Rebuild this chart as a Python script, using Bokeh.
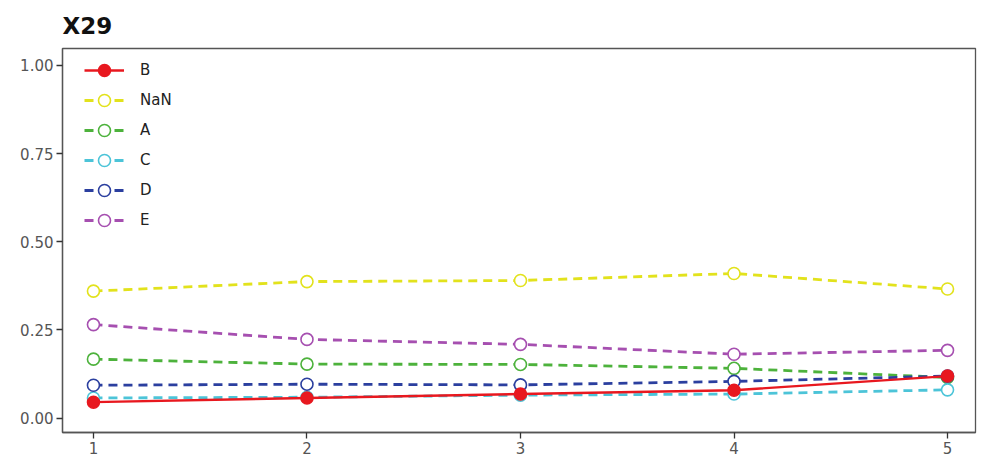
from bokeh.plotting import figure
from bokeh.models import Legend, LegendItem, Range1d, FixedTicker, NumeralTickFormatter
from bokeh.embed import file_html
from bokeh.resources import INLINE

x = [1, 2, 3, 4, 5]
series_names = ["B", "NaN", "A", "C", "D", "E"]
B = [0.045, 0.057, 0.068, 0.079, 0.119]
NaN_ = [0.360, 0.387, 0.390, 0.410, 0.366]
A = [0.167, 0.153, 0.152, 0.141, 0.115]
C = [0.057, 0.059, 0.065, 0.068, 0.080]
D = [0.093, 0.096, 0.094, 0.104, 0.119]
E = [0.265, 0.223, 0.209, 0.181, 0.192]
y_ticks = [0.0, 0.25, 0.5, 0.75, 1.0]
x_ticks = [1, 2, 3, 4, 5]

colors = {"B": "#e8181f", "NaN": "#e2e21c", "A": "#4db23c", "C": "#4cc4d8",
          "D": "#2b3f9f", "E": "#a64fb0"}
data = {"B": B, "NaN": NaN_, "A": A, "C": C, "D": D, "E": E}

p = figure(width=978, height=463, output_backend="svg", toolbar_location=None,
           x_range=Range1d(0.855, 5.131), y_range=Range1d(-0.041, 1.048),
           min_border_left=62, min_border_right=3, min_border_top=47, min_border_bottom=31)
p.title.text = "X29"
p.title.text_font = "DejaVu Sans"
p.title.text_font_size = "23px"
p.title.text_font_style = "bold"
p.title.text_color = "#111111"
p.title.offset = 0
p.title.standoff = 20

p.xgrid.visible = False
p.ygrid.visible = False
p.outline_line_color = "#555555"
p.outline_line_width = 1.3
p.background_fill_color = "white"

for ax in (p.xaxis[0], p.yaxis[0]):
    ax.axis_line_color = "#555555"
    ax.axis_line_width = 1.3
    ax.major_tick_line_color = "#333333"
    ax.major_tick_line_width = 1.3
    ax.major_tick_out = 6
    ax.major_tick_in = 0
    ax.minor_tick_line_color = None
    ax.major_label_text_font = "DejaVu Sans"
    ax.major_label_text_font_size = "15px"
    ax.major_label_text_color = "#555555"
    ax.major_label_standoff = 3
p.xaxis.ticker = FixedTicker(ticks=x_ticks)
p.yaxis.ticker = FixedTicker(ticks=y_ticks)
p.yaxis.formatter = NumeralTickFormatter(format="0.00")

items = {}
draw_order = ["NaN", "A", "C", "D", "E", "B"]
for name in draw_order:
    c = colors[name]
    if name == "B":
        ln = p.line(x, data[name], line_color=c, line_width=2.4)
        sc = p.scatter(x, data[name], marker="circle", size=12, fill_color=c,
                       line_color=c, line_width=1.5)
    else:
        ln = p.line(x, data[name], line_color=c, line_width=2.8, line_dash="9 6")
        sc = p.scatter(x, data[name], marker="circle", size=12, fill_color="white",
                       line_color=c, line_width=1.6)
    items[name] = [ln, sc]

legend = Legend(items=[LegendItem(label=n, renderers=items[n]) for n in series_names],
                location=(22, 385 - 6 - 182), padding=0, margin=0, spacing=0,
                glyph_width=40, glyph_height=30, label_height=30, label_standoff=16,
                label_text_font="DejaVu Sans", label_text_font_size="15px",
                label_text_color="#222222", border_line_color=None,
                background_fill_alpha=0.0)
p.add_layout(legend, "center")

open("out.html", "w").write(file_html(p, INLINE))
